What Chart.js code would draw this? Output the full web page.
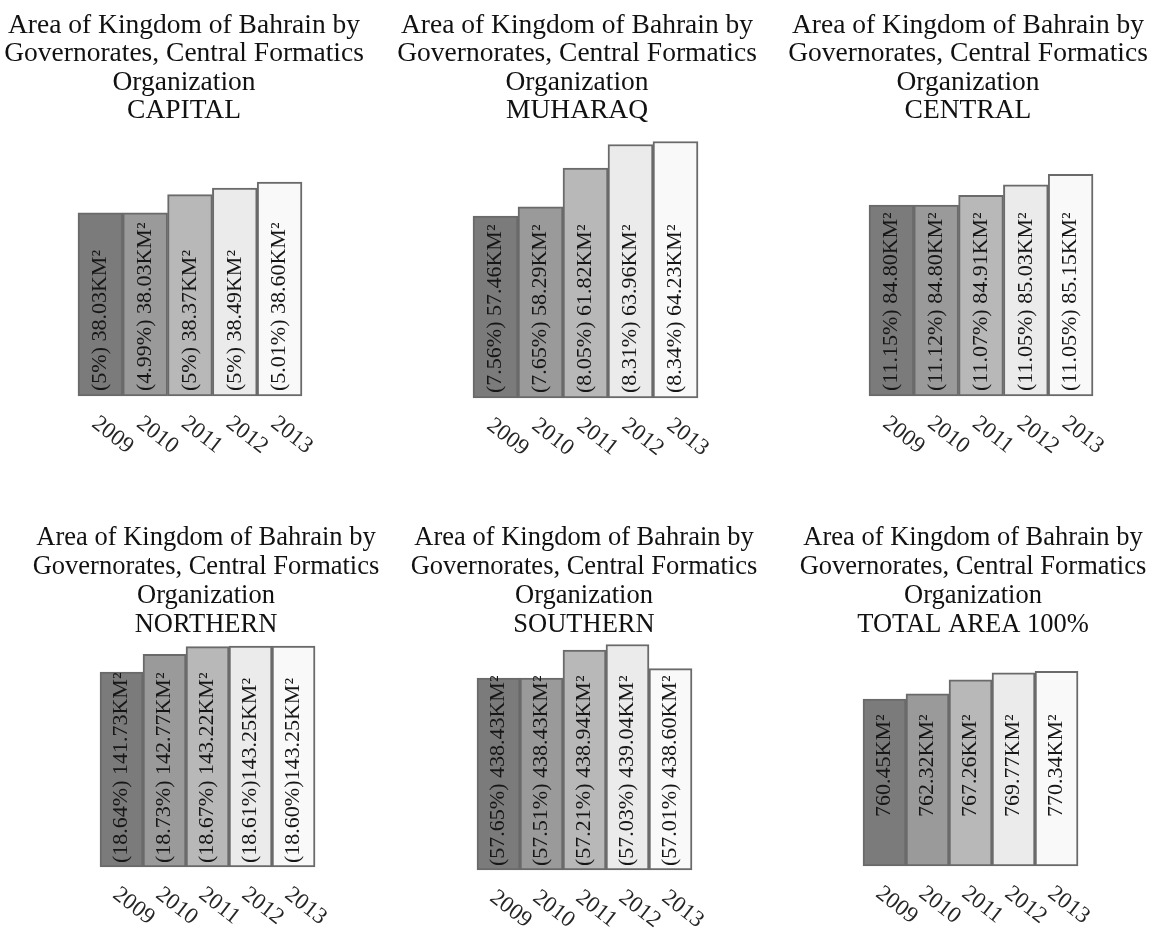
<!DOCTYPE html>
<html>
<head>
<meta charset="utf-8">
<title>Area of Kingdom of Bahrain by Governorates</title>
<script src="https://cdn.jsdelivr.net/npm/chart.js@4.4.1/dist/chart.umd.min.js"></script>
<style>
  html, body { margin: 0; padding: 0; background: #ffffff; }
  body { width: 1164px; height: 933px; position: relative; overflow: hidden; }
  canvas { position: absolute; }
</style>
</head>
<body>
<canvas id="capital"></canvas>
<canvas id="muharraq"></canvas>
<canvas id="central"></canvas>
<canvas id="northern"></canvas>
<canvas id="southern"></canvas>
<canvas id="total"></canvas>
<script>
// ---- data ----
const years = ['2009', '2010', '2011', '2012', '2013'];
const titleHead = ['Area of Kingdom of Bahrain by', 'Governorates, Central Formatics', 'Organization'];

const capitalArea  = [38.03, 38.03, 38.37, 38.49, 38.60];
const capitalShare = ['5%', '4.99%', '5%', '5%', '5.01%'];

const muharraqArea  = [57.46, 58.29, 61.82, 63.96, 64.23];
const muharraqShare = ['7.56%', '7.65%', '8.05%', '8.31%', '8.34%'];

const centralArea  = [84.80, 84.80, 84.91, 85.03, 85.15];
const centralShare = ['11.15%', '11.12%', '11.07%', '11.05%', '11.05%'];

const northernArea  = [141.73, 142.77, 143.22, 143.25, 143.25];
const northernShare = ['18.64%', '18.73%', '18.67%', '18.61%', '18.60%'];
const northernGap   = [' ', ' ', ' ', '', ''];

const southernArea  = [438.43, 438.43, 438.94, 439.04, 438.60];
const southernShare = ['57.65%', '57.51%', '57.21%', '57.03%', '57.01%'];

const totalArea = [760.45, 762.32, 767.26, 769.77, 770.34];

// ---- label text ----
function shareLabels(area, share, gap) {
  return area.map((v, i) => '(' + share[i] + ')' + (gap ? gap[i] : ' ') + v.toFixed(2) + 'KM\u00B2');
}
function plainLabels(area) {
  return area.map(v => v.toFixed(2) + 'KM\u00B2');
}

// ---- shared look ----
const FONT = '"Liberation Serif", "Times New Roman", serif';
const barFill = ['#7b7b7b', '#9a9a9a', '#b8b8b8', '#ebebeb', '#f9f9f9'];
const barEdge = '#6a6a6a';

// writes the value inside each bar (reading upward) and the slanted year under it
const barText = {
  id: 'barText',
  afterDatasetsDraw(chart, args, opts) {
    const ctx = chart.ctx;
    const meta = chart.getDatasetMeta(0);
    ctx.save();
    ctx.font = '22px ' + FONT;
    ctx.fillStyle = '#161616';
    ctx.textAlign = 'left';
    ctx.textBaseline = 'middle';
    meta.data.forEach((bar, i) => {
      ctx.save();
      ctx.translate(bar.x, bar.base - opts.lift);
      ctx.rotate(-Math.PI / 2);
      ctx.fillText(opts.labels[i], 0, 0);
      ctx.restore();
    });
    ctx.restore();
  },
  afterDraw(chart, args, opts) {
    const ctx = chart.ctx;
    const xs = chart.scales.x;
    const bottom = chart.chartArea.bottom;
    ctx.save();
    ctx.font = '23px ' + FONT;
    ctx.fillStyle = '#262626';
    ctx.textAlign = 'left';
    ctx.textBaseline = 'middle';
    years.forEach((yr, i) => {
      ctx.save();
      ctx.translate(xs.getPixelForValue(i) - 6, bottom + 25);
      ctx.rotate(38 * Math.PI / 180);
      ctx.fillText(yr, 0, 0);
      ctx.restore();
    });
    ctx.restore();
  }
};

const topRow = { top: 0, height: 466, size: 27.5, lh: 1.03, padTop: 11.5, padBottom: 8 };
const bottomRow = { top: 466, height: 467, size: 26.5, lh: 1.094, padTop: 57.5, padBottom: 8 };

const panels = [
  { id: 'capital', name: 'CAPITAL', area: capitalArea, labels: shareLabels(capitalArea, capitalShare),
    row: topRow, left: -26, padBottom: 70, barWidth: 44.8, x: [-2.821, 6.554], y: [34.64, 39.514], lift: 5 },
  { id: 'muharraq', name: 'MUHARAQ', area: muharraqArea, labels: shareLabels(muharraqArea, muharraqShare),
    row: topRow, left: 367, padBottom: 68, barWidth: 45, x: [-2.856, 6.478], y: [40.91, 65.02], lift: 5 },
  { id: 'central', name: 'CENTRAL', area: centralArea, labels: shareLabels(centralArea, centralShare),
    row: topRow, left: 758, padBottom: 70, barWidth: 44.8, x: [-2.978, 6.397], y: [82.63, 85.621], lift: 5 },
  { id: 'northern', name: 'NORTHERN', area: northernArea, labels: shareLabels(northernArea, northernShare, northernGap),
    row: bottomRow, left: -4, padBottom: 66, barWidth: 43, x: [-2.919, 6.848], y: [130.26, 143.174], lift: 4 },
  { id: 'southern', name: 'SOUTHERN', area: southernArea, labels: shareLabels(southernArea, southernShare),
    row: bottomRow, left: 374, padBottom: 63, barWidth: 43, x: [-2.895, 6.872], y: [434.94, 438.986], lift: 4 },
  { id: 'total', name: 'TOTAL AREA 100%', area: totalArea, labels: plainLabels(totalArea),
    row: bottomRow, left: 763, padBottom: 67, barWidth: 43, x: [-2.826, 6.941], y: [700.8, 778.85], lift: 49 }
];

panels.forEach(p => {
  const canvas = document.getElementById(p.id);
  canvas.width = 420;
  canvas.height = p.row.height;
  canvas.style.left = p.left + 'px';
  canvas.style.top = p.row.top + 'px';

  new Chart(canvas, {
    type: 'bar',
    data: {
      datasets: [{
        data: p.area.map((v, i) => ({ x: i, y: v })),
        base: p.y[0],
        backgroundColor: barFill,
        borderColor: barEdge,
        borderWidth: 2,
        borderSkipped: false,
        barThickness: p.barWidth,
        clip: false
      }]
    },
    options: {
      responsive: false,
      animation: false,
      events: [],
      layout: { padding: { left: 0, right: 0, top: 0, bottom: p.padBottom } },
      scales: {
        x: { type: 'linear', display: false, offset: false, min: p.x[0], max: p.x[1],
             ticks: { stepSize: 1, includeBounds: false } },
        y: { type: 'linear', display: false, beginAtZero: false, min: p.y[0], max: p.y[1] }
      },
      plugins: {
        legend: { display: false },
        tooltip: { enabled: false },
        title: {
          display: true,
          text: titleHead.concat([p.name]),
          color: '#111111',
          font: { family: FONT, size: p.row.size, weight: 'normal', lineHeight: p.row.lh },
          padding: { top: p.row.padTop, bottom: p.row.padBottom }
        },
        barText: { labels: p.labels, lift: p.lift }
      }
    },
    plugins: [barText]
  });
});
</script>
</body>
</html>
